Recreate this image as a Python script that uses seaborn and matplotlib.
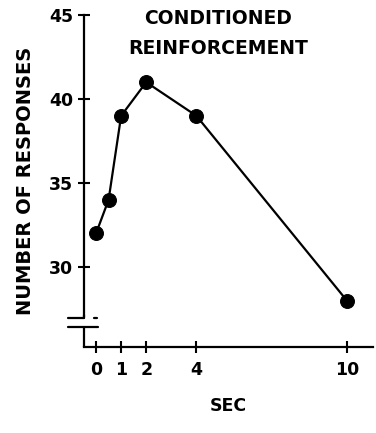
import matplotlib
matplotlib.use("Agg")
import matplotlib.pyplot as plt
import seaborn as sns
import pandas as pd

sec = [0, 0.5, 1, 2, 4, 10]
responses = [32, 34, 39, 41, 39, 28]
x_ticks = [0, 1, 2, 4, 10]
y_ticks = [30, 35, 40, 45]
title_lines = ["CONDITIONED", "REINFORCEMENT"]
x_label = "SEC"
y_label = "NUMBER OF RESPONSES"

sns.set_style("ticks")
plt.rcParams["font.family"] = ["DejaVu Sans"]
plt.rcParams["font.weight"] = "bold"
plt.rcParams["text.color"] = "black"
plt.rcParams["axes.labelcolor"] = "black"

df = pd.DataFrame({"sec": sec, "responses": responses})

fig = plt.figure(figsize=(3.76, 4.33), dpi=100)
W, H = 376, 433
left_px, right_px, top_px, bottom_px = 84, 373, 15, 347
ax = fig.add_axes([left_px / W, 1 - bottom_px / H, (right_px - left_px) / W, (bottom_px - top_px) / H])

sns.lineplot(data=df, x="sec", y="responses", ax=ax, color="black", lw=1.6,
             marker="o", markersize=10, markeredgecolor="black", markerfacecolor="black")

ax.set_xlim(-0.48, 11.04)
ax.set_ylim(25.24, 45)
ax.set_xticks(x_ticks)
ax.set_yticks(y_ticks)
ax.set_xticklabels([str(t) for t in x_ticks])
ax.set_yticklabels([str(t) for t in y_ticks])
ax.tick_params(axis="both", direction="inout", length=9, width=1.5, labelsize=12.5, colors="black")
ax.tick_params(axis="y", pad=3.5)
ax.tick_params(axis="x", pad=5.5)
for lab in ax.get_xticklabels() + ax.get_yticklabels():
    lab.set_fontweight("bold")

for s in ["top", "right"]:
    ax.spines[s].set_visible(False)
for s in ["left", "bottom"]:
    ax.spines[s].set_linewidth(1.6)
    ax.spines[s].set_color("black")
ax.spines["left"].set_bounds(27.1, 45)

# axis break decoration
trans = ax.get_yaxis_transform()
ax.plot([0, 0], [25.24, 26.45], color="black", lw=1.6, transform=trans, clip_on=False)
ax.plot([-0.055, 0], [26.95, 26.95], color="black", lw=1.6, transform=trans, clip_on=False)
ax.plot([0.035, 0.045], [26.95, 26.95], color="black", lw=1.6, transform=trans, clip_on=False)
ax.plot([-0.055, 0.048], [26.45, 26.45], color="black", lw=1.6, transform=trans, clip_on=False)
ax.plot([0, 0], [26.95, 27.15], color="black", lw=1.6, transform=trans, clip_on=False)

ax.set_xlabel(x_label, fontsize=12.5, fontweight="bold", labelpad=13)
ax.set_ylabel(y_label, fontsize=14, fontweight="bold", labelpad=10)

fig.text(218 / W, 1 - 18 / H, title_lines[0], ha="center", va="center", fontsize=13.5, fontweight="bold")
fig.text(218 / W, 1 - 48 / H, title_lines[1], ha="center", va="center", fontsize=13.5, fontweight="bold")

fig.savefig("out.png", dpi=100)
